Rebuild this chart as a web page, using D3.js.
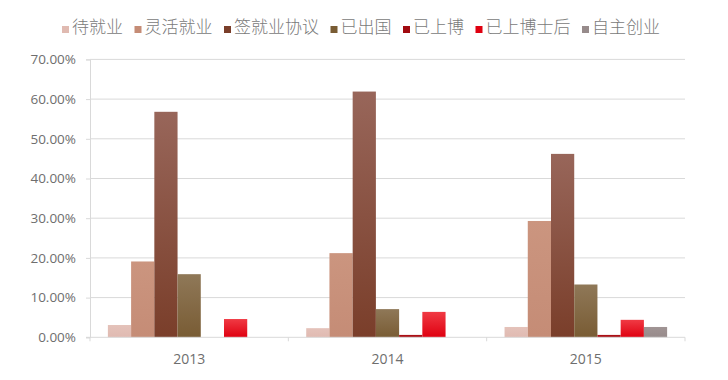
<!DOCTYPE html>
<html><head><meta charset="utf-8">
<script src="https://cdn.jsdelivr.net/npm/d3@7"></script>
<style>
html,body{margin:0;padding:0;background:#fff;}
svg{display:block;}
</style></head>
<body>
<svg id="chart" width="728" height="380"></svg>
<script>
const categories = ["2013", "2014", "2015"];
const seriesNames = ["待就业", "灵活就业", "签就业协议", "已出国", "已上博", "已上博士后", "自主创业"];
const s待就业 = [0.031, 0.023, 0.026];
const s灵活就业 = [0.191, 0.212, 0.293];
const s签就业协议 = [0.568, 0.619, 0.462];
const s已出国 = [0.159, 0.071, 0.133];
const s已上博 = [0.000, 0.006, 0.006];
const s已上博士后 = [0.046, 0.064, 0.044];
const s自主创业 = [0.000, 0.000, 0.026];
const seriesValues = [s待就业, s灵活就业, s签就业协议, s已出国, s已上博, s已上博士后, s自主创业];
const yTicks = [0, 0.1, 0.2, 0.3, 0.4, 0.5, 0.6, 0.7];
const colorsTop = ["#E4C2BA", "#CB957F", "#98665A", "#8F7858", "#AE1218", "#F03A44", "#A09494"];
const colorsBot = ["#E0BAB1", "#C58C76", "#7A3E2A", "#795C34", "#A10A10", "#DF0010", "#978B8B"];

const svg = d3.select("#chart");
const margin = {left: 90, right: 43, top: 59.4, bottom: 42.7};
const W = 728, H = 380;
const x0 = d3.scaleBand().domain(categories).range([margin.left, W - margin.right]).padding(0);
const x1 = d3.scaleBand().domain(seriesNames).range([0, x0.bandwidth()]).paddingInner(0).paddingOuter(0.77);
const y = d3.scaleLinear().domain([0, 0.7]).range([H - margin.bottom, margin.top]);

const defs = svg.append("defs");
seriesNames.forEach((s, i) => {
  const g = defs.append("linearGradient").attr("id", "g" + i).attr("x1", 0).attr("y1", 0).attr("x2", 0).attr("y2", 1);
  g.append("stop").attr("offset", "0%").attr("stop-color", colorsTop[i]);
  g.append("stop").attr("offset", "100%").attr("stop-color", colorsBot[i]);
});

// gridlines + y axis
const yAxis = d3.axisLeft(y).tickValues(yTicks).tickSize(4).tickFormat(d => (d * 100).toFixed(2) + "%");
const gy = svg.append("g").attr("transform", `translate(${margin.left},0)`).call(yAxis);
gy.select(".domain").attr("stroke", "#D9D9D9");
gy.selectAll(".tick line").attr("stroke", "#D9D9D9");
gy.selectAll(".tick text").attr("x", -14).attr("fill", "#6E6E6E")
  .style("font-family", "'Open Sans', sans-serif").style("font-size", "13.5px");
svg.append("g").selectAll("line").data(yTicks.filter(d => d > 0)).join("line")
  .attr("x1", margin.left).attr("x2", W - margin.right)
  .attr("y1", d => y(d)).attr("y2", d => y(d))
  .attr("stroke", "#D9D9D9").attr("stroke-width", 1);

// bars
const groups = svg.append("g").selectAll("g").data(categories).join("g")
  .attr("transform", d => `translate(${x0(d)},0)`);
groups.selectAll("rect").data((c, ci) => seriesNames.map((s, si) => ({s, si, v: seriesValues[si][ci]})))
  .join("rect")
  .attr("x", d => x1(d.s)).attr("width", x1.bandwidth())
  .attr("y", d => y(d.v)).attr("height", d => y(0) - y(d.v))
  .attr("fill", d => `url(#g${d.si})`);

// x axis
const xAxis = d3.axisBottom(x0).tickSize(0).tickPadding(17);
const gx = svg.append("g").attr("transform", `translate(0,${y(0)})`).call(xAxis);
gx.select(".domain").remove();
gx.selectAll(".tick text").attr("fill", "#6E6E6E")
  .style("font-family", "'Open Sans', sans-serif").style("font-size", "14px");
svg.append("line").attr("x1", margin.left - 4).attr("x2", W - margin.right)
  .attr("y1", y(0)).attr("y2", y(0)).attr("stroke", "#D9D9D9");
const bounds = categories.map(c => x0(c)).concat([x0(categories[categories.length - 1]) + x0.bandwidth()]);
svg.append("g").selectAll("line").data(bounds).join("line")
  .attr("x1", d => d).attr("x2", d => d)
  .attr("y1", y(0)).attr("y2", y(0) + 4).attr("stroke", "#D9D9D9");

// legend
const leg = svg.append("g").attr("transform", "translate(62,27)");
let lx = 0;
seriesNames.forEach((s, i) => {
  const it = leg.append("g").attr("transform", `translate(${lx},0)`);
  it.append("rect").attr("x", 0).attr("y", -1).attr("width", 7).attr("height", 7).attr("fill", colorsBot[i]);
  const t = it.append("text").attr("x", 10).attr("y", 0).attr("dy", "0.36em")
    .attr("fill", "#7A7A7A").style("font-family", "'Noto Sans CJK SC', sans-serif")
    .style("font-size", "17px").style("font-weight", 300).text(s);
  lx += 10 + t.node().getComputedTextLength() + 11.5;
});
</script>
</body></html>
